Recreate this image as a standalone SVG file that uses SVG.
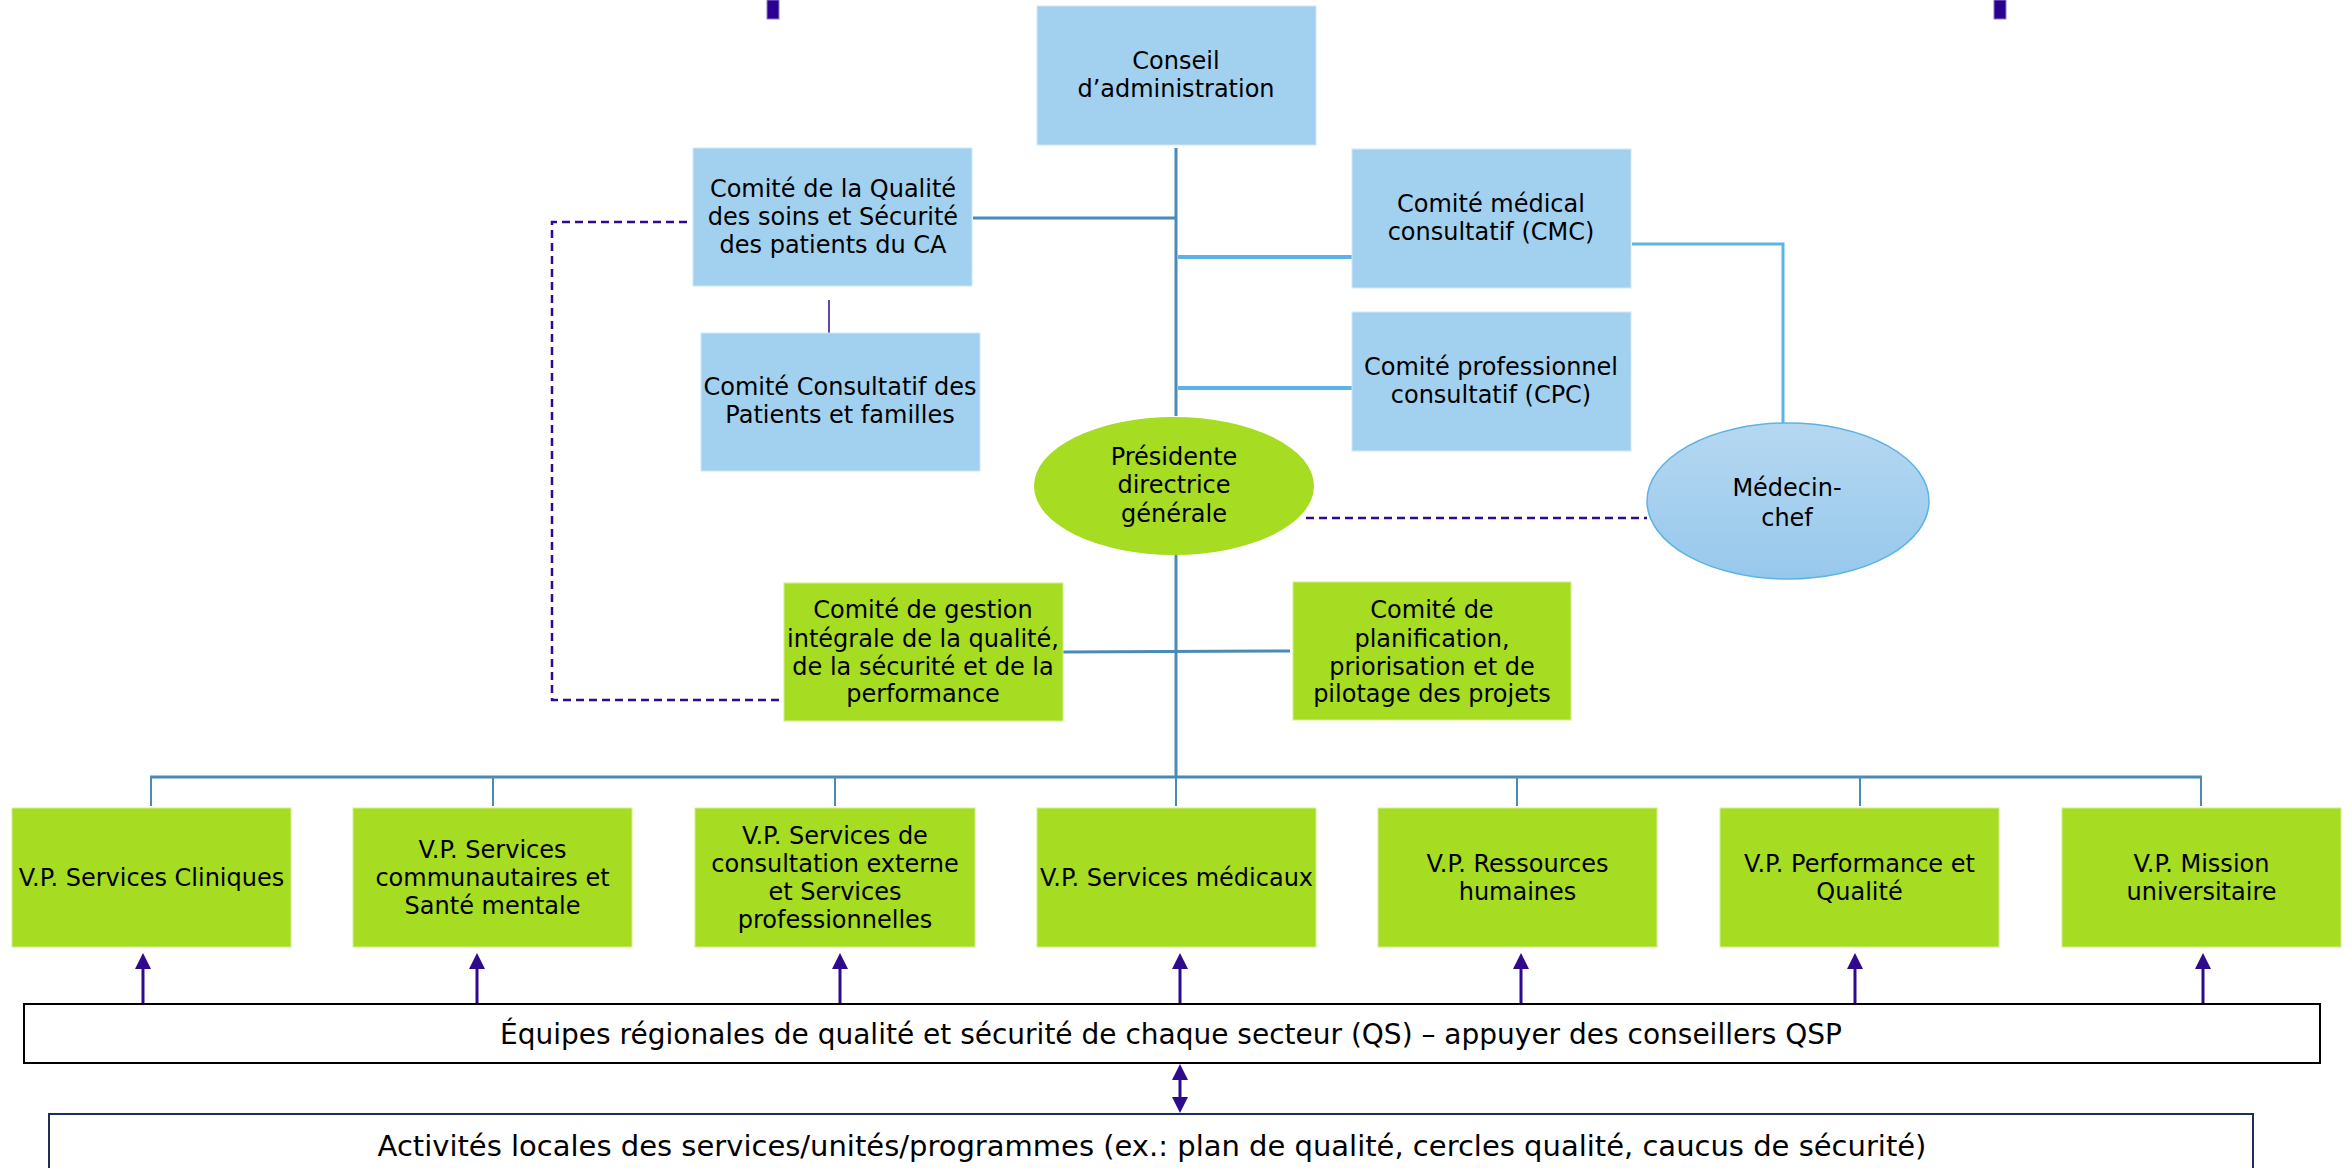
<svg xmlns="http://www.w3.org/2000/svg" width="2352" height="1168" viewBox="0 0 2352 1168">
<style>
text{font-family:"DejaVu Sans","Liberation Sans",sans-serif;font-size:24px;fill:#000;text-anchor:middle}
.big{font-size:28px}
.big2{font-size:29px}
.blue{fill:#a2d1ef;stroke:#cfe8f7;stroke-width:1}
.green{fill:#a6dc22;stroke:#d2ee8c;stroke-width:1}
.trunk{stroke:#4a8ab8;stroke-width:3;fill:none}
.drop{stroke:#4a8ab8;stroke-width:2;fill:none}
.light{stroke:#5db3e4;stroke-width:4;fill:none}
.light3{stroke:#5db3e4;stroke-width:3;fill:none}
.dash{stroke:#2e0a8c;stroke-width:2.5;stroke-dasharray:8,5;fill:none}
.thin{stroke:#2e0a8c;stroke-width:1.5;fill:none}
.arr{stroke:#2e0a8c;stroke-width:3;fill:none;marker-end:url(#ah)}
.dbl{stroke:#2e0a8c;stroke-width:3;fill:none;marker-end:url(#ah);marker-start:url(#ah)}
</style>
<defs>
<marker id="ah" viewBox="0 0 16 16" refX="12" refY="8" markerWidth="16" markerHeight="16" markerUnits="userSpaceOnUse" orient="auto-start-reverse">
<path d="M0,0 L16,8 L0,16 z" fill="#2e0a8c"/>
</marker>
<linearGradient id="mc" x1="0" y1="0" x2="0" y2="1">
<stop offset="0" stop-color="#b5d8f1"/>
<stop offset="1" stop-color="#97c8ec"/>
</linearGradient>
</defs>
<rect width="2352" height="1168" fill="#fff"/>
<g id="top-bars">
<rect x="767" y="0" width="12" height="19" fill="#2b0090" stroke="#8a7fd0" stroke-width="1"/>
<rect x="1994" y="0" width="12" height="19" fill="#2b0090" stroke="#8a7fd0" stroke-width="1"/>
</g>
<g id="connectors">
<line class="trunk" x1="1176" y1="148" x2="1176" y2="416"/>
<line class="trunk" x1="1176" y1="555" x2="1176" y2="778"/>
<line class="trunk" x1="973" y1="218" x2="1176" y2="218"/>
<line class="light" x1="1178" y1="257" x2="1352" y2="257"/>
<line class="light" x1="1178" y1="388" x2="1352" y2="388"/>
<polyline class="light3" points="1632,244 1783,244 1783,423"/>
<line class="dash" x1="1306" y1="518" x2="1647" y2="518"/>
<polyline class="dash" points="687,222 552,222 552,700 782,700"/>
<line class="thin" x1="829" y1="300" x2="829" y2="340"/>
<line class="trunk" x1="1063" y1="652" x2="1290" y2="651"/>
<line class="trunk" x1="150" y1="777" x2="2202" y2="777"/>
<line class="drop" x1="151" y1="777" x2="151" y2="806"/>
<line class="drop" x1="493" y1="777" x2="493" y2="806"/>
<line class="drop" x1="835" y1="777" x2="835" y2="806"/>
<line class="drop" x1="1176" y1="777" x2="1176" y2="806"/>
<line class="drop" x1="1517" y1="777" x2="1517" y2="806"/>
<line class="drop" x1="1860" y1="777" x2="1860" y2="806"/>
<line class="drop" x1="2201" y1="777" x2="2201" y2="806"/>
<line class="arr" x1="143" y1="1006" x2="143" y2="957"/>
<line class="arr" x1="477" y1="1006" x2="477" y2="957"/>
<line class="arr" x1="840" y1="1006" x2="840" y2="957"/>
<line class="arr" x1="1180" y1="1006" x2="1180" y2="957"/>
<line class="arr" x1="1521" y1="1006" x2="1521" y2="957"/>
<line class="arr" x1="1855" y1="1006" x2="1855" y2="957"/>
<line class="arr" x1="2203" y1="1006" x2="2203" y2="957"/>
<line class="dbl" x1="1180" y1="1068" x2="1180" y2="1109"/>
</g>
<g id="conseil">
<rect class="blue" x="1037" y="6" width="279" height="139"/>
<text x="1176" y="69">Conseil</text>
<text x="1176" y="97">d’administration</text>
</g>
<g id="comite-qualite">
<rect class="blue" x="693" y="148" width="279" height="138"/>
<text x="833" y="197">Comité de la Qualité</text>
<text x="833" y="225">des soins et Sécurité</text>
<text x="833" y="253">des patients du CA</text>
</g>
<g id="comite-patients">
<rect class="blue" x="701" y="333" width="279" height="138"/>
<text x="840" y="395">Comité Consultatif des</text>
<text x="840" y="423">Patients et familles</text>
</g>
<g id="cmc">
<rect class="blue" x="1352" y="149" width="279" height="139"/>
<text x="1491" y="212">Comité médical</text>
<text x="1491" y="240">consultatif (CMC)</text>
</g>
<g id="cpc">
<rect class="blue" x="1352" y="312" width="279" height="139"/>
<text x="1491" y="375">Comité professionnel</text>
<text x="1491" y="403">consultatif (CPC)</text>
</g>
<g id="presidente">
<ellipse cx="1174" cy="486" rx="140" ry="69" fill="#a6dc22"/>
<text x="1174" y="465">Présidente</text>
<text x="1174" y="493">directrice</text>
<text x="1174" y="522">générale</text>
</g>
<g id="medecin-chef">
<ellipse cx="1788" cy="501" rx="141" ry="78" fill="url(#mc)" stroke="#5db3e4" stroke-width="1.5"/>
<text x="1787" y="496">Médecin-</text>
<text x="1787" y="526">chef</text>
</g>
<g id="comite-gestion">
<rect class="green" x="784" y="583" width="279" height="138"/>
<text x="923" y="618">Comité de gestion</text>
<text x="923" y="647">intégrale de la qualité,</text>
<text x="923" y="675">de la sécurité et de la</text>
<text x="923" y="702">performance</text>
</g>
<g id="comite-planification">
<rect class="green" x="1293" y="582" width="278" height="138"/>
<text x="1432" y="618">Comité de</text>
<text x="1432" y="647">planification,</text>
<text x="1432" y="675">priorisation et de</text>
<text x="1432" y="702">pilotage des projets</text>
</g>
<g id="vp-cliniques">
<rect class="green" x="12" y="808" width="279" height="139"/>
<text x="151.5" y="886">V.P. Services Cliniques</text>
</g>
<g id="vp-communautaires">
<rect class="green" x="353" y="808" width="279" height="139"/>
<text x="492.5" y="858">V.P. Services</text>
<text x="492.5" y="886">communautaires et</text>
<text x="492.5" y="914">Santé mentale</text>
</g>
<g id="vp-consultation">
<rect class="green" x="695" y="808" width="280" height="139"/>
<text x="835" y="844">V.P. Services de</text>
<text x="835" y="872">consultation externe</text>
<text x="835" y="900">et Services</text>
<text x="835" y="928">professionnelles</text>
</g>
<g id="vp-medicaux">
<rect class="green" x="1037" y="808" width="279" height="139"/>
<text x="1176.5" y="886">V.P. Services médicaux</text>
</g>
<g id="vp-rh">
<rect class="green" x="1378" y="808" width="279" height="139"/>
<text x="1517.5" y="872">V.P. Ressources</text>
<text x="1517.5" y="900">humaines</text>
</g>
<g id="vp-performance">
<rect class="green" x="1720" y="808" width="279" height="139"/>
<text x="1859.5" y="872">V.P. Performance et</text>
<text x="1859.5" y="900">Qualité</text>
</g>
<g id="vp-mission">
<rect class="green" x="2062" y="808" width="279" height="139"/>
<text x="2201.5" y="872">V.P. Mission</text>
<text x="2201.5" y="900">universitaire</text>
</g>
<g id="equipes-qs">
<rect x="24" y="1004" width="2296" height="59" fill="#fff" stroke="#000" stroke-width="2"/>
<text class="big" x="1171" y="1044">Équipes régionales de qualité et sécurité de chaque secteur (QS) – appuyer des conseillers QSP</text>
</g>
<g id="activites-locales">
<rect x="49" y="1114" width="2204" height="80" fill="#fff" stroke="#1f2d5a" stroke-width="2"/>
<text class="big2" x="1152" y="1156">Activités locales des services/unités/programmes (ex.: plan de qualité, cercles qualité, caucus de sécurité)</text>
</g>
</svg>
